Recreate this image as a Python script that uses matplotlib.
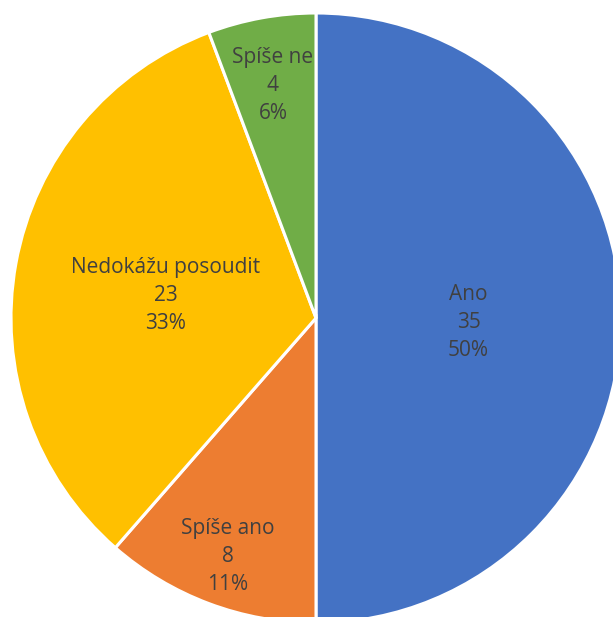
import numpy as np
import matplotlib.pyplot as plt

labels = ["Ano", "Spíše ano", "Nedokážu posoudit", "Spíše ne"]
counts = [35, 8, 23, 4]
colors = ["#4472C4", "#ED7D31", "#FFC000", "#70AD47"]

# distance of each label from centre (fraction of radius)
label_r = [0.50, 0.82, 0.50, 0.79]

W, H = 613, 617
cx, cy, R = 316, 318, 305

fig = plt.figure(figsize=(W / 100, H / 100), dpi=100)
ax = fig.add_axes([0, 0, 1, 1])
wedges, _ = ax.pie(counts, colors=colors, startangle=90, counterclock=False,
                   radius=1, wedgeprops=dict(edgecolor="white", linewidth=2.2))

total = sum(counts)
for w, lab, n, r in zip(wedges, labels, counts, label_r):
    mid = np.deg2rad((w.theta1 + w.theta2) / 2)
    pct = round(n / total * 100)
    ax.text(r * np.cos(mid), r * np.sin(mid) - 0.015, f"{lab}\n{n}\n{pct}%",
            ha="center", va="center", fontsize=15, color="#404040",
            family="Open Sans", linespacing=1.45)

ax.set_xlim(-cx / R, (W - cx) / R)
ax.set_ylim(-(H - cy) / R, cy / R)
ax.set_aspect("auto")
ax.axis("off")

fig.savefig("out.png", dpi=100)
